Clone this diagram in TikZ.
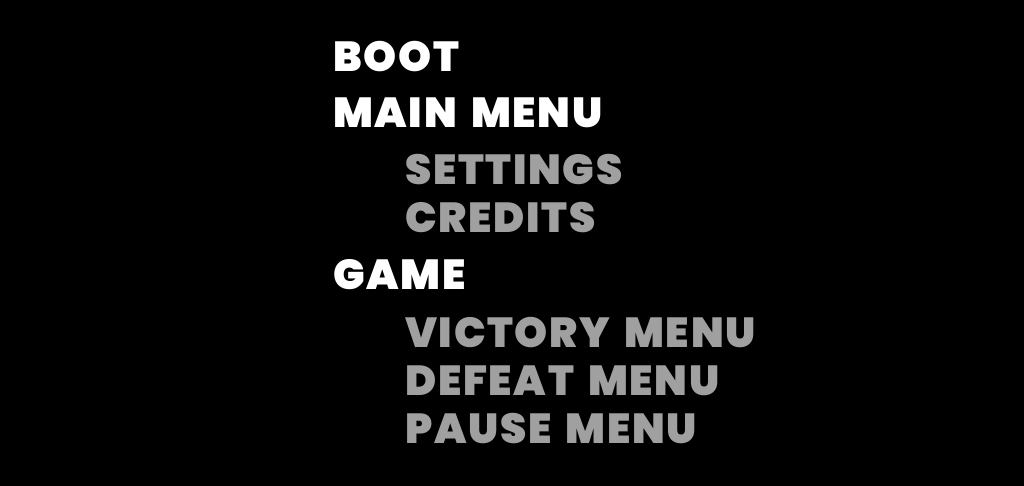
\documentclass[tikz,border=0pt]{standalone}
\usepackage{fontspec}
\setmainfont{Poppins}[UprightFont={* Black},BoldFont={* Black},LetterSpace=4,WordSpace=1.6]
\usepackage{tikz}
\usetikzlibrary{positioning}
\definecolor{menugray}{RGB}{160,160,160}

\begin{document}
\begin{tikzpicture}[x=1pt,y=-1pt,
		every node/.style={inner sep=0pt,anchor=base west,font=\fontsize{42}{42}\selectfont},
		top/.style={text=white},
		sub/.style={text=menugray},
	]
		\fill[black] (0,0) rectangle (1024,486);
		\useasboundingbox (0,0) rectangle (1024,486);
%		top level screens
		\node[top] (boot) at (333,72) {BOOT};
		\node[top] (main) at (333,128) {MAIN MENU};
		\node[top] (game) at (333,289) {GAME};
%		sub screens
		\node[sub] (settings) at (405,185) {SETTINGS};
		\node[sub] (credits) at (405,233) {CREDITS};
		\node[sub] (victory) at (405,347) {VICTORY MENU};
		\node[sub] (defeat) at (405,395) {DEFEAT MENU};
		\node[sub] (pause) at (405,443) {PAUSE MENU};
	\end{tikzpicture}
\end{document}
